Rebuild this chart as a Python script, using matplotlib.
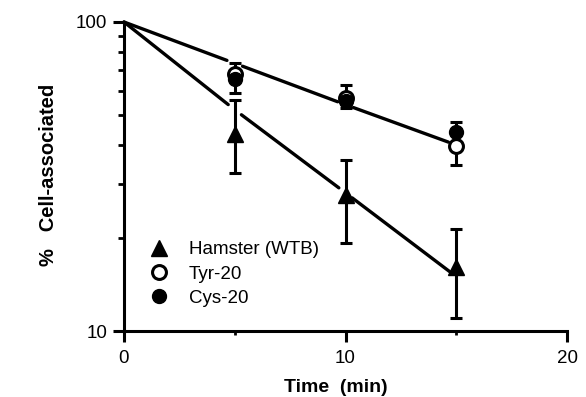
import matplotlib
matplotlib.use('Agg')
import matplotlib.pyplot as plt
from matplotlib.ticker import FixedLocator, NullFormatter
import numpy as np

plt.rcParams['font.family'] = ['Liberation Sans', 'DejaVu Sans']

# data
time = [0, 5, 10, 15]
hamster = [100, 43.5, 27.5, 16.1]
hamster_lo = [100, 32.5, 19.3, 11.0]
hamster_hi = [100, 56.0, 35.8, 21.4]
tyr = [100, 68.0, 56.8, 39.7]
cys = [100, 65.5, 55.5, 44.0]
cys_lo = [100, 59.0, 52.7, 34.4]
cys_hi = [100, 73.7, 62.5, 47.5]
# fitted lines (value at each time point)
fit_hamster = [100, 52.0, 28.0, 15.0]
fit_tyr_cys = [100, 73.5, 54.0, 40.0]

fig = plt.figure(figsize=(5.86, 3.97), dpi=100)
ax = fig.add_axes([0.2116, 0.1662, 0.7560, 0.7784])
ax.set_yscale('log')
ax.set_xlim(0, 20)
ax.set_ylim(10, 100)


def broken_line(xs, ys, shrink):
    # line pieces with gaps around the markers, like the original plot
    for i in range(len(xs) - 1):
        ax.annotate('', xy=(xs[i + 1], ys[i + 1]), xytext=(xs[i], ys[i]),
                    arrowprops=dict(arrowstyle='-', lw=2.4, color='black',
                                    shrinkA=shrink if i > 0 else 0, shrinkB=shrink),
                    annotation_clip=False)


broken_line(time, fit_hamster, 6)
broken_line(time, fit_tyr_cys, 6)

x = np.array(time[1:])
ham = np.array(hamster[1:])
ax.errorbar(x, ham, yerr=[ham - np.array(hamster_lo[1:]), np.array(hamster_hi[1:]) - ham],
            fmt='none', ecolor='black', elinewidth=2.2, capsize=4.5, capthick=2.2)
cy = np.array(cys[1:])
ax.errorbar(x, cy, yerr=[cy - np.array(cys_lo[1:]), np.array(cys_hi[1:]) - cy],
            fmt='none', ecolor='black', elinewidth=2.2, capsize=4.5, capthick=2.2)

ax.plot(x, tyr[1:], 'o', ms=10, mfc='white', mec='black', mew=2.2, label='Tyr-20', zorder=4)
ax.plot(x, cys[1:], 'o', ms=10, color='black', label='Cys-20', zorder=5)
ax.plot(x, hamster[1:], '^', ms=11, color='black', label='Hamster (WTB)', zorder=5)

h, l = ax.get_legend_handles_labels()
order = [2, 0, 1]
leg = ax.legend([h[i] for i in order], [l[i] for i in order], loc='upper left',
                bbox_to_anchor=(0.04, 0.315), frameon=False, fontsize=13.5,
                handlelength=1.0, handletextpad=1.1, labelspacing=0.38, borderaxespad=0.0)

for s in ['top', 'right']:
    ax.spines[s].set_visible(False)
for s in ['left', 'bottom']:
    ax.spines[s].set_linewidth(2.2)

ax.yaxis.set_major_locator(FixedLocator([10, 100]))
ax.set_yticklabels(['10', '100'])
ax.yaxis.set_minor_locator(FixedLocator([20, 30, 40, 50, 60, 70, 80, 90]))
ax.yaxis.set_minor_formatter(NullFormatter())
ax.set_xticks([0, 10, 20])
ax.set_xticks([5, 15], minor=True)
ax.tick_params(axis='both', which='major', length=8, width=2.2, labelsize=13.5, direction='out')
ax.tick_params(axis='both', which='minor', length=4, width=2, direction='out')
ax.tick_params(axis='x', which='minor', length=3)
ax.tick_params(axis='x', pad=6)
ax.tick_params(axis='y', pad=4)

ax.set_xlabel('Time  (min)', fontsize=14, fontweight='bold')
ax.set_ylabel('%   Cell-associated', fontsize=14.5, fontweight='bold')
ax.xaxis.set_label_coords(0.479, -0.155)
ax.yaxis.set_label_coords(-0.15, 0.505)

fig.savefig('out.png', dpi=100)
